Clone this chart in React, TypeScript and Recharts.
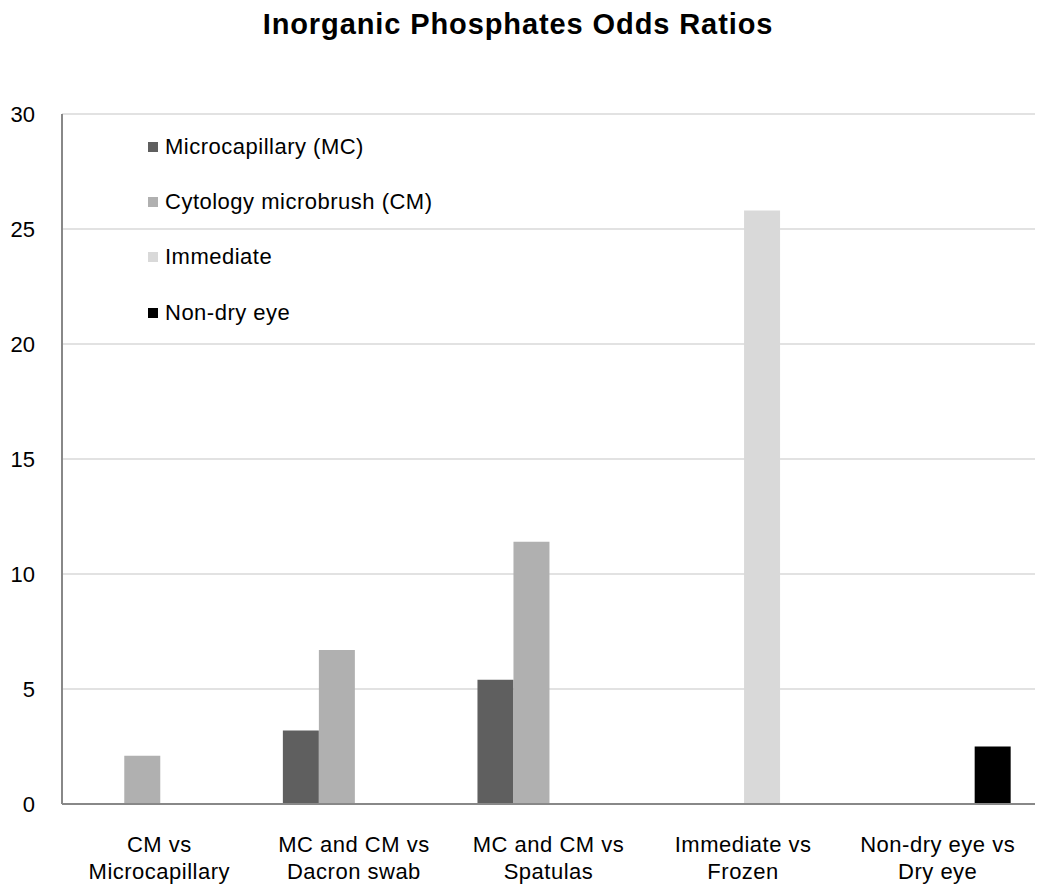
import { BarChart, Bar, XAxis, YAxis, CartesianGrid } from "recharts"

// categories (two-line labels split on "\n")
const categories = [
  "CM vs\nMicrocapillary",
  "MC and CM vs\nDacron swab",
  "MC and CM vs\nSpatulas",
  "Immediate vs\nFrozen",
  "Non-dry eye vs\nDry eye",
]

const microcapillary = [null, 3.2, 5.4, null, null]
const microbrush = [2.1, 6.7, 11.4, null, null]
const immediate = [null, null, null, 25.8, null]
const nonDryEye = [null, null, null, null, 2.5]

const yTicks = [0, 5, 10, 15, 20, 25, 30]

const series = [
  { key: "mc", name: "Microcapillary (MC)", values: microcapillary, color: "#5f5f5f" },
  { key: "cm", name: "Cytology microbrush (CM)", values: microbrush, color: "#b0b0b0" },
  { key: "imm", name: "Immediate", values: immediate, color: "#d9d9d9" },
  { key: "ndry", name: "Non-dry eye", values: nonDryEye, color: "#000000" },
]

const data = categories.map((c, i) => {
  const row: Record<string, string | number | null> = { category: c }
  series.forEach((s) => {
    row[s.key] = s.values[i]
  })
  return row
})

const font = "'Liberation Sans', Arial, sans-serif"

function CategoryTick(props: any) {
  const { x, y, payload } = props
  const lines = String(payload.value).split("\n")
  return (
    <g transform={`translate(${x},${y})`}>
      {lines.map((line, i) => (
        <text
          key={i}
          x={0}
          y={i * 27}
          textAnchor="middle"
          fill="#000"
          fontSize={22}
          letterSpacing={0.5}
          fontFamily={font}
        >
          {line}
        </text>
      ))}
    </g>
  )
}

// legend sits inside the plot, top-left, like the original
function LegendBox() {
  return (
    <div style={{ position: "absolute", top: 119, left: 148, fontFamily: font }}>
      {series.map((s) => (
        <div key={s.key} style={{ display: "flex", alignItems: "center", height: 55.3 }}>
          <span style={{ width: 10, height: 10, background: s.color, marginRight: 7, display: "inline-block" }} />
          <span style={{ fontSize: 22, letterSpacing: 0.5, color: "#000" }}>{s.name}</span>
        </div>
      ))}
    </div>
  )
}

export default function App() {
  return (
    <div style={{ position: "relative", width: 1050, height: 896, margin: "-8px 0 0 -8px", background: "#fff" }}>
      <div
        style={{
          position: "absolute",
          top: 8,
          left: 0,
          width: 1036,
          textAlign: "center",
          fontFamily: font,
          fontWeight: "bold",
          fontSize: 29,
          letterSpacing: 0.9,
        }}
      >
        Inorganic Phosphates Odds Ratios
      </div>
      <BarChart
        width={1050}
        height={896}
        data={data}
        margin={{ top: 114, right: 15, left: 0, bottom: 0 }}
        barCategoryGap="13.5%"
        barGap={0}
      >
        <CartesianGrid vertical={false} stroke="#d9d9d9" strokeWidth={1.5} />
        <XAxis
          dataKey="category"
          height={92}
          tickLine={false}
          axisLine={{ stroke: "#888888", strokeWidth: 2 }}
          tick={<CategoryTick />}
          tickMargin={42}
          interval={0}
        />
        <YAxis
          width={62}
          domain={[0, 30]}
          ticks={yTicks}
          tickLine={false}
          tickSize={0}
          tickMargin={27}
          axisLine={{ stroke: "#888888", strokeWidth: 2 }}
          tick={{ fill: "#000", fontSize: 22, fontFamily: font }}
        />
        {series.map((s) => (
          <Bar key={s.key} dataKey={s.key} name={s.name} fill={s.color} isAnimationActive={false} />
        ))}
      </BarChart>
      <LegendBox />
    </div>
  )
}
